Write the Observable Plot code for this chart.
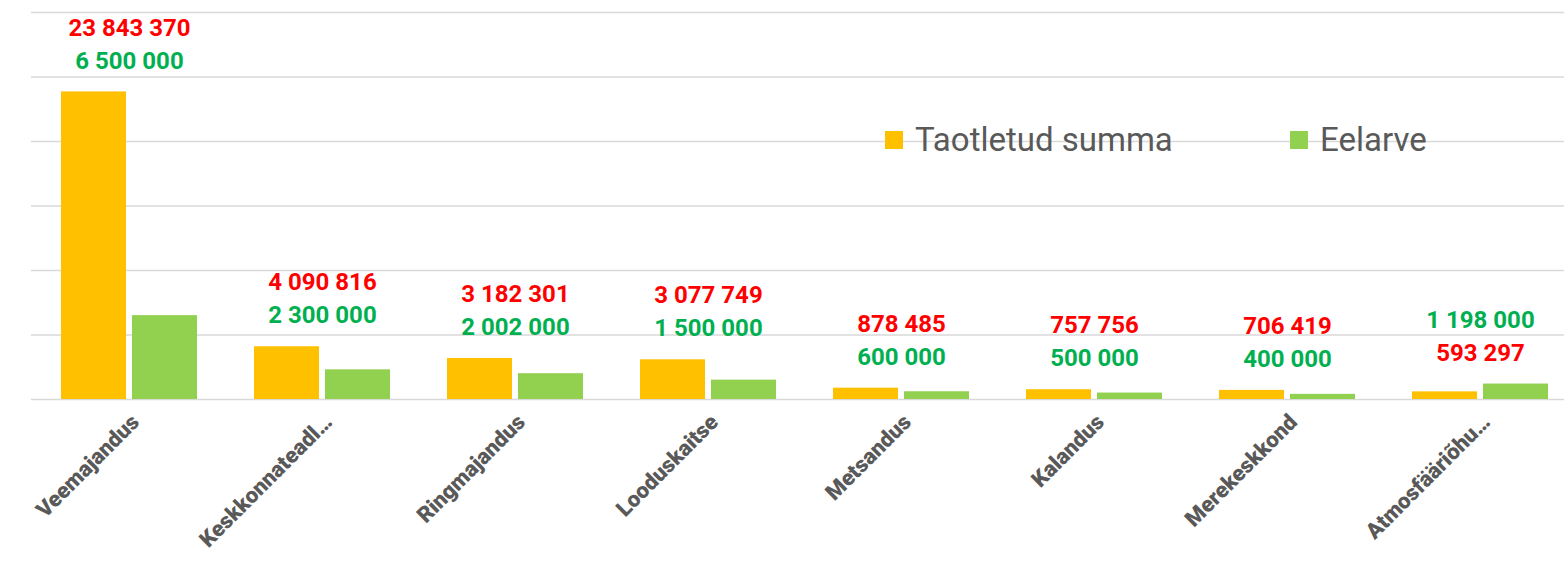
<!DOCTYPE html>
<html>
<head>
<meta charset="utf-8">
<script src="https://cdn.jsdelivr.net/npm/d3@7"></script>
<script src="https://cdn.jsdelivr.net/npm/@observablehq/plot@0.6"></script>
<style>
  html, body { margin: 0; padding: 0; background: #fff; overflow: hidden; }
  #wrap { position: relative; width: 1564px; height: 561px; }
  .leg { position: absolute; display: flex; align-items: center; font-family: Roboto, sans-serif; font-size: 33px; color: #595959; }
  .sw { width: 18px; height: 18px; margin-right: 12px; }
</style>
</head>
<body>
<div id="wrap"></div>
<script>
const categories = ["Veemajandus", "Keskkonnateadl…", "Ringmajandus", "Looduskaitse", "Metsandus", "Kalandus", "Merekeskkond", "Atmosfääriõhu…"];
const seriesNames = ["Taotletud summa", "Eelarve"];
const taotletud = [23843370, 4090816, 3182301, 3077749, 878485, 757756, 706419, 593297];
const eelarve = [6500000, 2300000, 2002000, 1500000, 600000, 500000, 400000, 1198000];
const yTicks = [0, 5e6, 10e6, 15e6, 20e6, 25e6, 30e6];

const barColors = ["#FFC000", "#92D050"];
const labelColors = ["#FF0000", "#00B050"];

const rows = categories.map((c, i) => ({cat: c, t: taotletud[i], e: eelarve[i]}));
const fmt = v => d3.format(",")(v).replace(/,/g, "\u00a0");

const lower = [], upper = [];
rows.forEach(r => {
  const items = [{cat: r.cat, series: seriesNames[0], value: r.t}, {cat: r.cat, series: seriesNames[1], value: r.e}];
  items.sort((a, b) => a.value - b.value);
  const top = Math.max(r.t, r.e);
  lower.push({...items[0], top});
  upper.push({...items[1], top});
});

const labelFont = {fontSize: 24, fontWeight: "bold", fontFamily: "Roboto, sans-serif"};

const chart = Plot.plot({
  width: 1564,
  height: 561,
  marginTop: 12,
  marginBottom: 162,
  marginLeft: 31,
  marginRight: 0,
  style: {fontFamily: "Roboto, sans-serif", background: "#fff"},
  x: {type: "band", domain: categories, range: [31, 1578], paddingInner: 0.296, paddingOuter: 0.148, axis: null},
  y: {domain: [0, 30e6], axis: null},
  color: {domain: seriesNames, range: labelColors},
  marks: [
    Plot.ruleY(yTicks, {stroke: "#d9d9d9", strokeWidth: 1.3}),
    Plot.barY(rows, {x: "cat", y: "t", fill: barColors[0], insetRight: 71}),
    Plot.barY(rows, {x: "cat", y: "e", fill: barColors[1], insetLeft: 71}),
    Plot.text(lower, {x: "cat", y: "top", text: d => fmt(d.value), fill: "series", dy: -31, ...labelFont}),
    Plot.text(upper, {x: "cat", y: "top", text: d => fmt(d.value), fill: "series", dy: -64, ...labelFont}),
    Plot.text(categories, {x: d => d, frameAnchor: "bottom", rotate: -45, textAnchor: "end", lineAnchor: "bottom", dx: 11, dy: 24, fill: "#595959", fontSize: 22, fontWeight: 900})
  ]
});

const wrap = document.getElementById("wrap");
wrap.appendChild(chart);

const legPos = [885, 1290];
seriesNames.forEach((s, i) => {
  const d = document.createElement("div");
  d.className = "leg";
  d.style.left = legPos[i] + "px";
  d.style.top = "120px";
  d.innerHTML = `<div class="sw" style="background:${barColors[i]}"></div><span>${s}</span>`;
  wrap.appendChild(d);
});
</script>
</body>
</html>
